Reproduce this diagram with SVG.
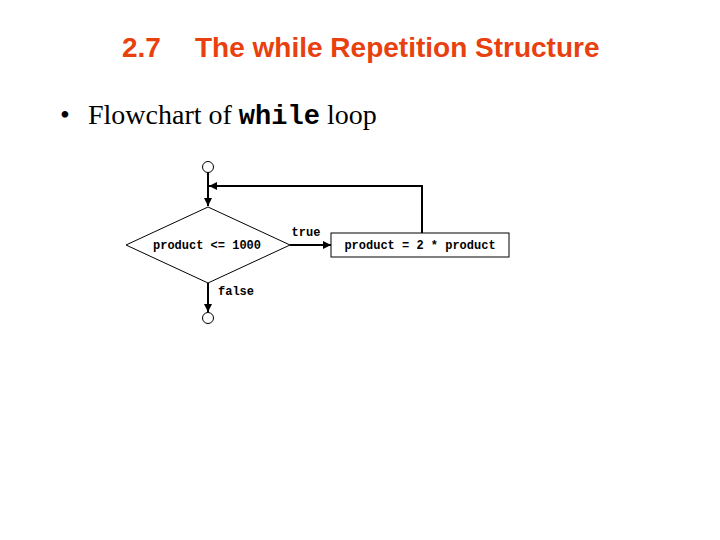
<svg xmlns="http://www.w3.org/2000/svg" width="720" height="540" viewBox="0 0 720 540">
<style>
.title{font-family:"Liberation Sans",Arial,sans-serif;font-weight:bold;font-size:28px;fill:#E8400E}
.body{font-family:"Liberation Serif","Times New Roman",serif;font-size:28px;fill:#000}
.code{font-family:"Liberation Mono","Courier New",monospace;font-weight:bold;font-size:27px}
.lbl{font-family:"Liberation Mono","Courier New",monospace;font-weight:bold;font-size:12px;fill:#000}
.shape{fill:#fff;stroke:#000;stroke-width:1}
.conn{fill:none;stroke:#000;stroke-width:2}
</style>
<defs>
<marker id="ah" viewBox="0 0 10 10" refX="10" refY="5" markerWidth="4" markerHeight="4" orient="auto" markerUnits="strokeWidth">
<path d="M0,0 L10,5 L0,10 z" fill="#000"/>
</marker>
</defs>
<rect width="720" height="540" fill="#fff"/>
<text class="title" x="122" y="57">2.7</text>
<text class="title" x="195" y="57">The while Repetition Structure</text>
<text class="body" x="60" y="124">•</text>
<text class="body" x="88" y="124">Flowchart of <tspan class="code">while</tspan> loop</text>
<g id="connectors">
<line class="conn" x1="208" y1="172.5" x2="208" y2="206" marker-end="url(#ah)"/>
<polyline class="conn" points="422,233 422,186 209,186" marker-end="url(#ah)"/>
<line class="conn" x1="290" y1="245" x2="331" y2="245" marker-end="url(#ah)"/>
<line class="conn" x1="208" y1="283" x2="208" y2="312" marker-end="url(#ah)"/>
<text class="lbl" x="306" y="236" text-anchor="middle">true</text>
<text class="lbl" x="236" y="295" text-anchor="middle">false</text>
</g>
<g id="start">
<circle class="shape" cx="208" cy="167" r="5.5"/>
</g>
<g id="decision">
<polygon class="shape" points="208,207 290,245 208,283 126,245"/>
<text class="lbl" x="207" y="249" text-anchor="middle">product &lt;= 1000</text>
</g>
<g id="action">
<rect class="shape" x="331" y="233" width="178" height="24"/>
<text class="lbl" x="420" y="249" text-anchor="middle">product = 2 * product</text>
</g>
<g id="end">
<circle class="shape" cx="208" cy="318" r="5.5"/>
</g>
</svg>
